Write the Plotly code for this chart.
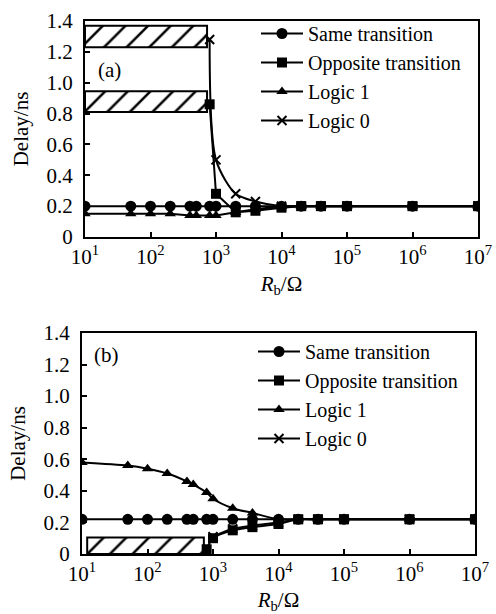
import plotly.graph_objects as go

# ---------------- data ----------------
x_full = [10, 50, 100, 200, 400, 500, 800, 1000, 2000, 4000, 1e4, 2e4, 4e4, 1e5, 1e6, 1e7]
x_late = [800, 1000, 2000, 4000, 1e4, 2e4, 4e4, 1e5, 1e6, 1e7]
x_late_b0 = [1000, 2000, 4000, 1e4, 2e4, 4e4, 1e5, 1e6, 1e7]

# panel (a)
a_same = [0.20, 0.20, 0.20, 0.20, 0.20, 0.20, 0.20, 0.20, 0.20, 0.20, 0.20, 0.20, 0.20, 0.20, 0.20, 0.20]
a_logic1 = [0.15, 0.15, 0.15, 0.15, 0.14, 0.14, 0.14, 0.14, 0.16, 0.18, 0.20, 0.20, 0.20, 0.20, 0.20, 0.20]
a_opposite = [0.86, 0.28, 0.16, 0.17, 0.19, 0.20, 0.20, 0.20, 0.20, 0.20]
a_logic0 = [1.28, 0.50, 0.28, 0.23, 0.20, 0.20, 0.20, 0.20, 0.20, 0.20]
a_boxes = [(10, 730, 1.23, 1.37), (10, 730, 0.81, 0.945)]

# panel (b)
b_same = [0.22, 0.22, 0.22, 0.22, 0.22, 0.22, 0.22, 0.22, 0.22, 0.22, 0.22, 0.22, 0.22, 0.22, 0.22, 0.22]
b_logic1 = [0.58, 0.56, 0.54, 0.51, 0.46, 0.44, 0.39, 0.35, 0.29, 0.26, 0.22, 0.22, 0.22, 0.22, 0.22, 0.22]
b_opposite = [0.03, 0.10, 0.15, 0.17, 0.19, 0.22, 0.22, 0.22, 0.22, 0.22]
b_logic0 = [0.11, 0.16, 0.18, 0.20, 0.22, 0.22, 0.22, 0.22, 0.22]
b_boxes = [(12, 725, 0.0, 0.105)]

x_tickvals = [1e1, 1e2, 1e3, 1e4, 1e5, 1e6, 1e7]
x_ticktext = ["10<sup>1</sup>", "10<sup>2</sup>", "10<sup>3</sup>", "10<sup>4</sup>",
              "10<sup>5</sup>", "10<sup>6</sup>", "10<sup>7</sup>"]
y_tickvals = [0, 0.2, 0.4, 0.6, 0.8, 1.0, 1.2, 1.4]
y_ticktext = ["0", "0.2", "0.4", "0.6", "0.8", "1.0", "1.2", "1.4"]

names = ["Same transition", "Opposite transition", "Logic 1", "Logic 0"]
symbols = ["circle", "square", "triangle-up", "x-thin"]
msizes = [11, 10, 10, 9]

FONT = "Liberation Serif"
fig = go.Figure()


def add_box(box, xa, ya):
    x0, x1, y0, y1 = box
    fig.add_trace(go.Scatter(
        x=[x0, x1, x1, x0, x0], y=[y0, y0, y1, y1, y0],
        mode="lines", fill="toself", fillcolor="white",
        fillpattern=dict(shape="/", size=16, solidity=0.16, fgcolor="black",
                         bgcolor="white", fgopacity=1),
        line=dict(color="black", width=2), showlegend=False, hoverinfo="skip",
        xaxis=xa, yaxis=ya))


def add_series(x, y, i, xa, ya, legend, shape="linear"):
    sym = symbols[i]
    marker = dict(symbol=sym, size=msizes[i], color="black",
                  line=dict(color="black", width=2 if sym == "x-thin" else 0))
    fig.add_trace(go.Scatter(
        x=x, y=y, name=names[i], mode="lines+markers",
        line=dict(color="black", width=2, shape=shape, smoothing=0.8),
        marker=marker, xaxis=xa, yaxis=ya, legend=legend))


for b in a_boxes:
    add_box(b, "x", "y")
for b in b_boxes:
    add_box(b, "x2", "y2")

add_series(x_full, a_same, 0, "x", "y", "legend")
add_series(x_late, a_opposite, 1, "x", "y", "legend")
add_series(x_full, a_logic1, 2, "x", "y", "legend")
add_series(x_late, a_logic0, 3, "x", "y", "legend", shape="spline")

add_series(x_full, b_same, 0, "x2", "y2", "legend2")
add_series(x_late, b_opposite, 1, "x2", "y2", "legend2", shape="spline")
add_series(x_full, b_logic1, 2, "x2", "y2", "legend2", shape="spline")
add_series(x_late_b0, b_logic0, 3, "x2", "y2", "legend2", shape="spline")

W, H = 496, 614

def xdom(l, r):
    return [l / W, r / W]

def ydom(top, bottom):
    return [1 - bottom / H, 1 - top / H]

axis_common = dict(showline=True, linecolor="black", linewidth=2, mirror=True,
                   ticks="inside", ticklen=5, tickwidth=1.5, tickcolor="black",
                   showgrid=False, zeroline=False, automargin=False,
                   tickfont=dict(family=FONT, size=21, color="black"))

xtitle = dict(text="<i>R</i><sub>b</sub>/Ω", font=dict(family=FONT, size=21, color="black"), standoff=8)
ytitle = dict(text="Delay/ns", font=dict(family=FONT, size=21, color="black"), standoff=12)

LEGFONT = dict(family=FONT, size=20, color="black")

fig.update_layout(
    width=W, height=H, margin=dict(l=0, r=0, t=0, b=0, autoexpand=False),
    paper_bgcolor="white", plot_bgcolor="white",
    font=dict(family=FONT, size=21, color="black"),
    xaxis=dict(domain=xdom(85, 478), type="log", range=[1, 7], anchor="y",
               tickvals=x_tickvals, ticktext=x_ticktext, title=xtitle, **axis_common),
    yaxis=dict(domain=ydom(21, 237), range=[0, 1.4], anchor="x", ticklabelstandoff=6,
               tickvals=y_tickvals, ticktext=y_ticktext, title=ytitle, **axis_common),
    xaxis2=dict(domain=xdom(82, 475), type="log", range=[1, 7], anchor="y2",
                tickvals=x_tickvals, ticktext=x_ticktext, title=xtitle, **axis_common),
    yaxis2=dict(domain=ydom(333, 554), range=[0, 1.4], anchor="x2", ticklabelstandoff=6,
                tickvals=y_tickvals, ticktext=y_ticktext, title=ytitle, **axis_common),
    legend=dict(x=256 / W, y=1 - 14 / H, xanchor="left", yanchor="top",
                bgcolor="rgba(0,0,0,0)", font=LEGFONT, tracegroupgap=0, itemwidth=42),
    legend2=dict(x=253 / W, y=1 - 332 / H, xanchor="left", yanchor="top",
                 bgcolor="rgba(0,0,0,0)", font=LEGFONT, tracegroupgap=0, itemwidth=42),
    annotations=[
        dict(text="(a)", x=1.17, y=1.08, xref="x", yref="y", xanchor="left", yanchor="middle",
             showarrow=False, font=dict(family=FONT, size=21, color="black")),
        dict(text="(b)", x=1.16, y=1.26, xref="x2", yref="y2", xanchor="left", yanchor="middle",
             showarrow=False, font=dict(family=FONT, size=21, color="black")),
    ],
)

fig.write_html("out.html", config={"displayModeBar": False},
               post_script="document.body.style.margin='0';document.body.style.overflow='hidden';")
